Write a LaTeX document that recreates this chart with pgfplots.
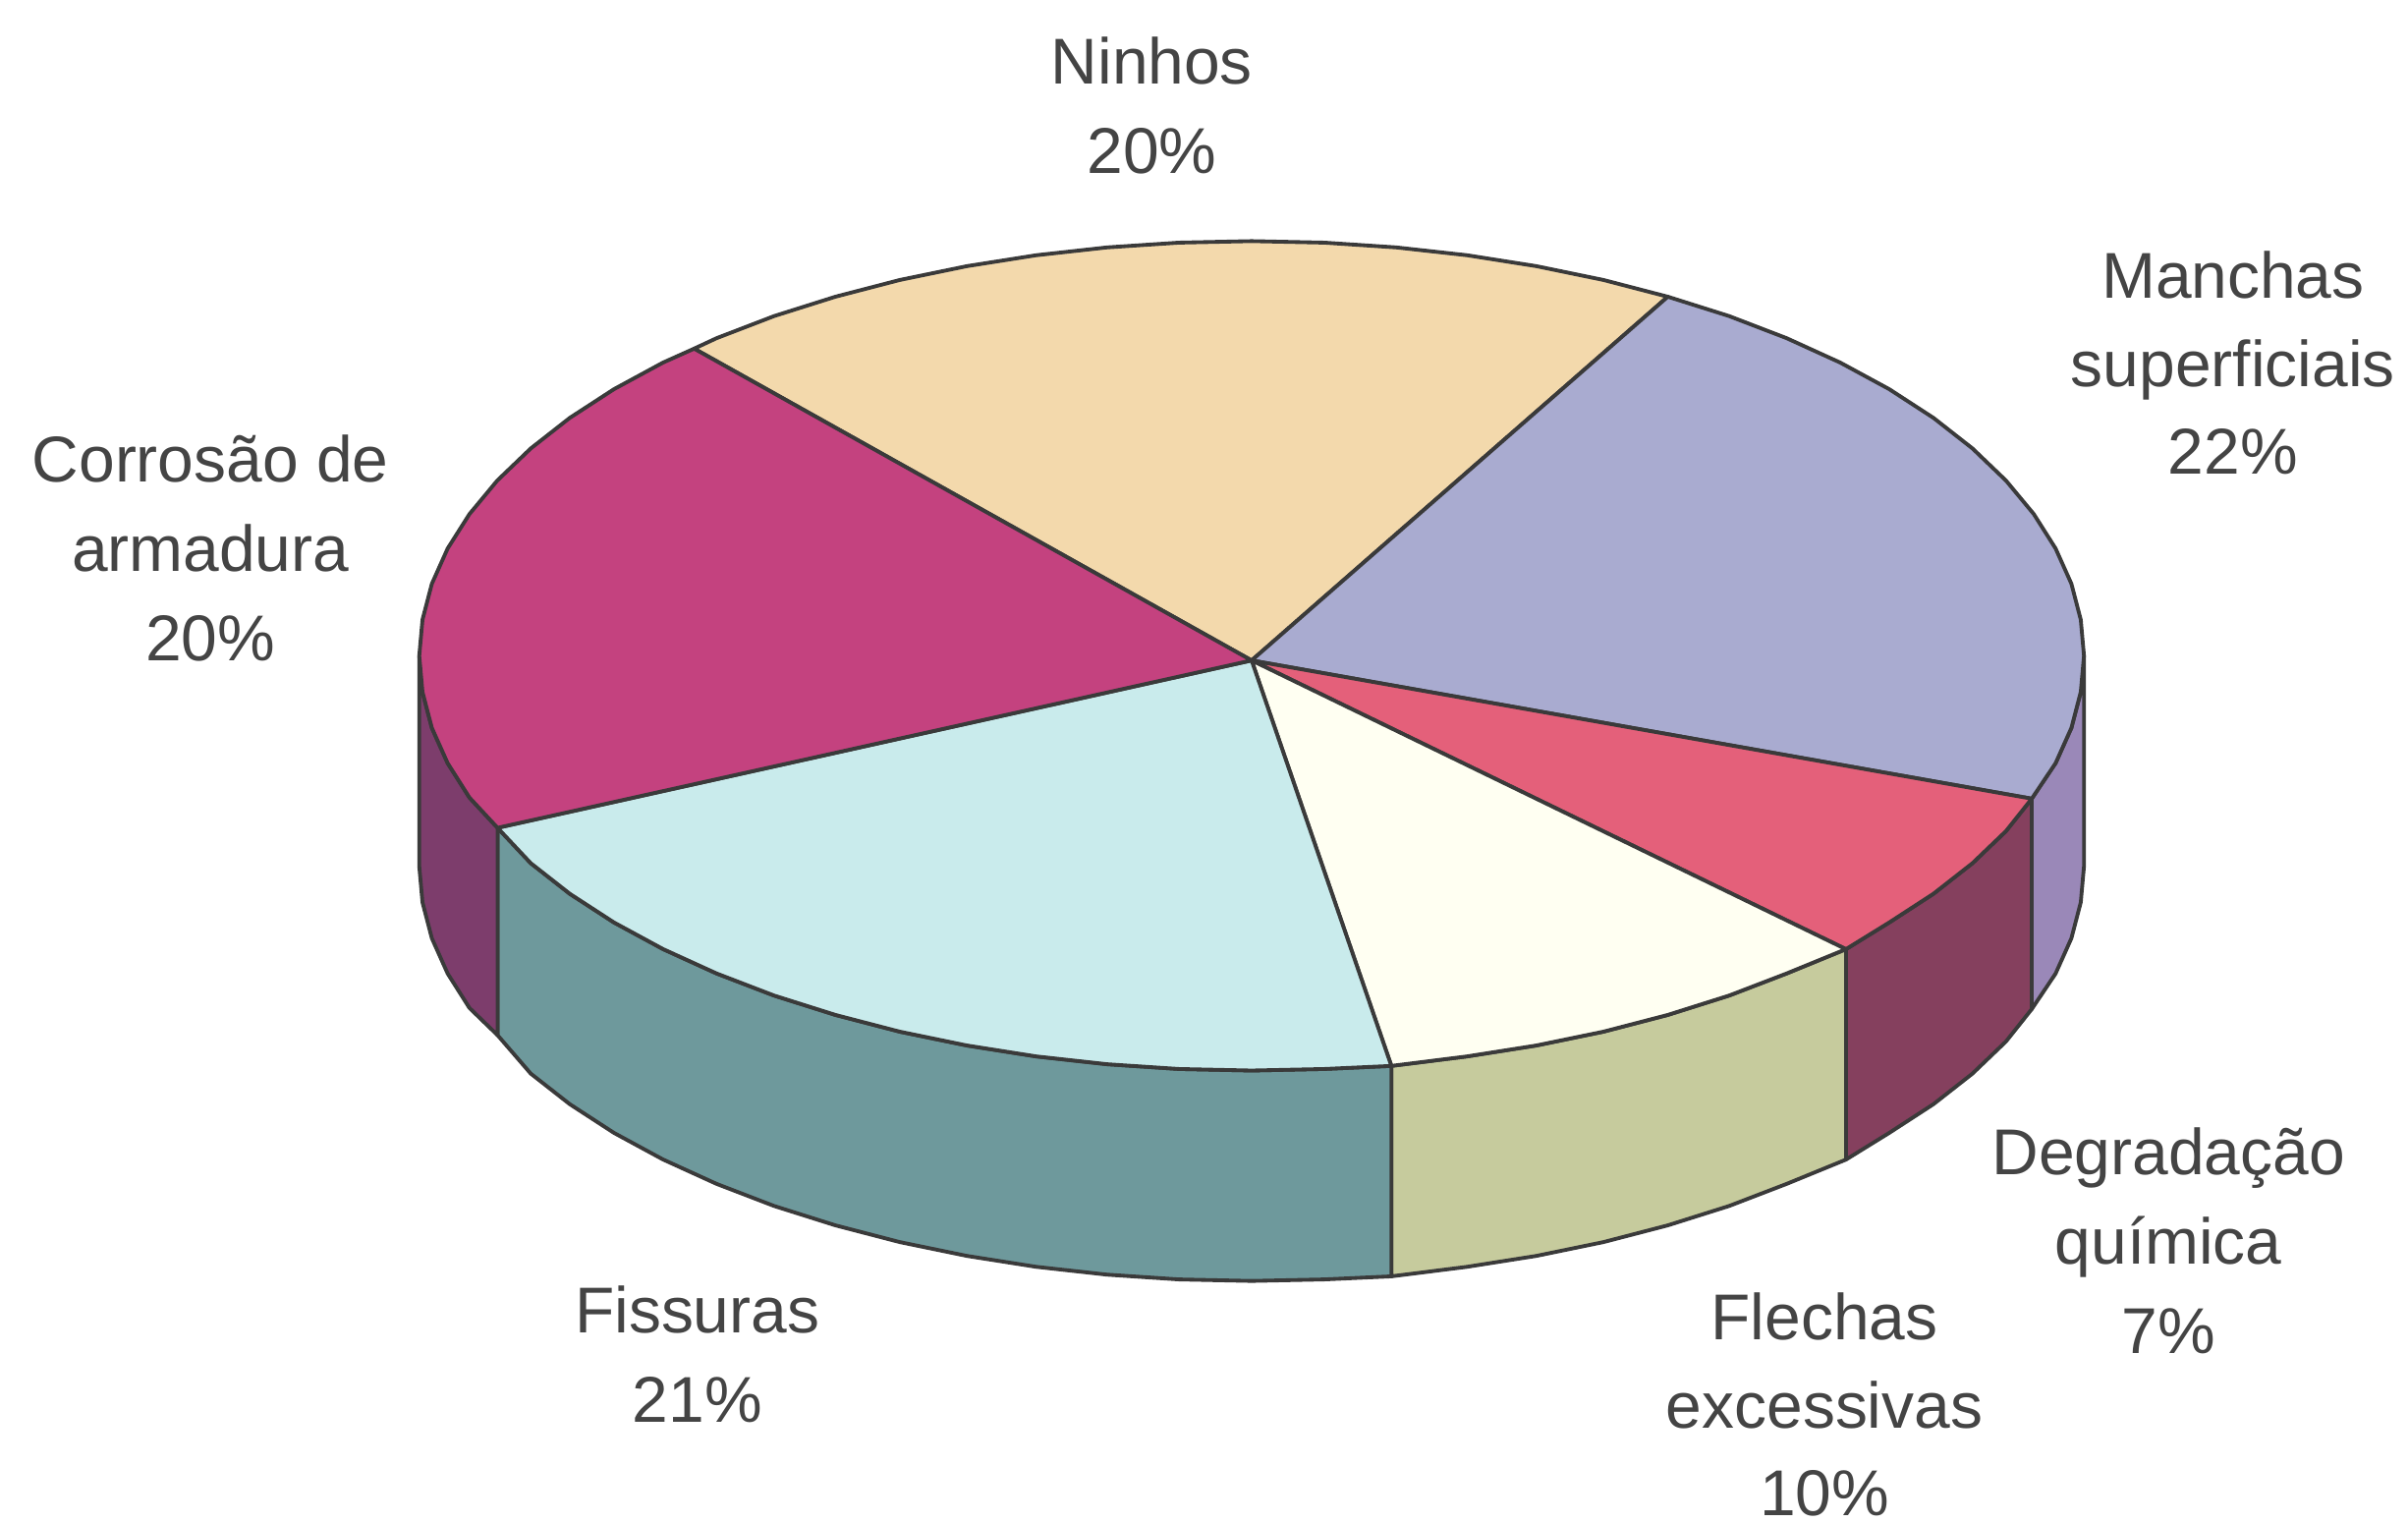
\documentclass[border=0pt]{standalone}
\usepackage{fontspec}
\setmainfont{Liberation Sans}
\usepackage{pgfplots}
\pgfplotsset{compat=1.18}

\definecolor{topNinhos}{HTML}{F3D9AC}
\definecolor{topManchas}{HTML}{A9ABD0}
\definecolor{topDegrad}{HTML}{E4607A}
\definecolor{topFlechas}{HTML}{FFFFF2}
\definecolor{topFissuras}{HTML}{C9EBEC}
\definecolor{topCorrosao}{HTML}{C4427F}
\definecolor{sideManchas}{HTML}{9A88B8}
\definecolor{sideDegrad}{HTML}{85405E}
\definecolor{sideFlechas}{HTML}{C6CB9D}
\definecolor{sideFissuras}{HTML}{6E999C}
\definecolor{sideCorrosao}{HTML}{7D3D6C}
\definecolor{edge}{HTML}{3A3A3A}
\definecolor{labeltext}{HTML}{444444}

\tikzset{
  slice/.style={draw=edge, line width=0.7pt, line join=round},
  lab/.style={anchor=base, text=labeltext, font=\fontsize{12}{14}\selectfont, inner sep=0pt},
}

\begin{document}
\begin{tikzpicture}
\useasboundingbox (0,0) rectangle (15.68,9.91);
\begin{axis}[
  scale only axis, width=15.68cm, height=9.91cm,
  xmin=0, xmax=1568, ymin=0, ymax=991, y dir=reverse,
  axis lines=none, clip=false,
]
% Rim of the disc
\addplot[slice, fill=sideManchas] coordinates {
 (1357,427) (1354.9,450.5) (1348.8,473.9) (1338.5,496.9) (1323,520)
 (1323,657) (1338.5,633.9) (1348.8,610.9) (1354.9,587.5) (1357,564) (1357,427)};
\addplot[slice, fill=sideDegrad] coordinates {
 (1323,520) (1306.2,541.1) (1284.4,562) (1259,581.9) (1230.2,600.6) (1202,618)
 (1202,755) (1230.2,737.6) (1259,718.9) (1284.4,699) (1306.2,678.1) (1323,657) (1323,520)};
\addplot[slice, fill=sideFlechas] coordinates {
 (1202,618) (1163.4,633.8) (1125.9,648.2) (1086,660.8) (1044.1,671.7) (1000.4,680.7) (955.3,687.8) (906,694)
 (906,831) (955.3,824.8) (1000.4,817.7) (1044.1,808.7) (1086,797.8) (1125.9,785.2) (1163.4,770.8) (1202,755) (1202,618)};
\addplot[slice, fill=sideFissuras] coordinates {
 (906,694) (862.3,696) (815,697) (767.7,696) (720.9,692.9) (674.7,687.8) (629.6,680.7) (585.9,671.7) (544,660.8)
 (504.1,648.2) (466.6,633.8) (431.7,617.9) (399.8,600.6) (371,581.9) (345.6,562) (324,539)
 (324,674) (345.6,699) (371,718.9) (399.8,737.6) (431.7,754.9) (466.6,770.8) (504.1,785.2) (544,797.8)
 (585.9,808.7) (629.6,817.7) (674.7,824.8) (720.9,829.9) (767.7,833) (815,834) (862.3,833) (906,831) (906,694)};
\addplot[slice, fill=sideCorrosao] coordinates {
 (273,427) (275.1,450.5) (281.2,473.9) (291.5,496.9) (305.7,519.3) (324,539)
 (324,674) (305.7,656.3) (291.5,633.9) (281.2,610.9) (275.1,587.5) (273,564) (273,427)};
% Top faces of the slices
\addplot[slice, fill=topNinhos] coordinates {
 (815,430) (452,227) (466.6,220.2) (504.1,205.8) (544,193.2) (585.9,182.3) (629.6,173.3) (674.7,166.2) (720.9,161.1)
 (767.7,158) (815,157) (862.3,158) (909.1,161.1) (955.3,166.2) (1000.4,173.3) (1044.1,182.3) (1086,193.2) (815,430)};
\addplot[slice, fill=topManchas] coordinates {
 (815,430) (1086,193.2) (1125.9,205.8) (1163.4,220.2) (1198.3,236.1) (1230.2,253.4) (1259,272.1) (1284.4,292)
 (1306.2,312.9) (1324.3,334.7) (1338.5,357.1) (1348.8,380.1) (1354.9,403.5) (1357,427) (1354.9,450.5) (1348.8,473.9)
 (1338.5,496.9) (1323,520) (815,430)};
\addplot[slice, fill=topDegrad] coordinates {
 (815,430) (1323,520) (1306.2,541.1) (1284.4,562) (1259,581.9) (1230.2,600.6) (1202,618) (815,430)};
\addplot[slice, fill=topFlechas] coordinates {
 (815,430) (1202,618) (1163.4,633.8) (1125.9,648.2) (1086,660.8) (1044.1,671.7) (1000.4,680.7) (955.3,687.8) (906,694) (815,430)};
\addplot[slice, fill=topFissuras] coordinates {
 (815,430) (906,694) (862.3,696) (815,697) (767.7,696) (720.9,692.9) (674.7,687.8) (629.6,680.7) (585.9,671.7) (544,660.8)
 (504.1,648.2) (466.6,633.8) (431.7,617.9) (399.8,600.6) (371,581.9) (345.6,562) (324,539) (815,430)};
\addplot[slice, fill=topCorrosao] coordinates {
 (815,430) (324,539) (305.7,519.3) (291.5,496.9) (281.2,473.9) (275.1,450.5) (273,427) (275.1,403.5) (281.2,380.1)
 (291.5,357.1) (305.7,334.7) (323.8,312.9) (345.6,292) (371,272.1) (399.8,253.4) (431.7,236.1) (452,227) (815,430)};
% Slice labels
\node[lab] at (axis cs:750,55) {Ninhos};
\node[lab] at (axis cs:750,113) {20\%};
\node[lab] at (axis cs:1454,194) {Manchas};
\node[lab] at (axis cs:1454,252) {superficiais};
\node[lab] at (axis cs:1454,309) {22\%};
\node[lab] at (axis cs:137,314) {Corrosão de};
\node[lab] at (axis cs:137,372) {armadura};
\node[lab] at (axis cs:137,430) {20\%};
\node[lab] at (axis cs:454,868) {Fissuras};
\node[lab] at (axis cs:454,926) {21\%};
\node[lab] at (axis cs:1188,872) {Flechas};
\node[lab] at (axis cs:1188,930) {excessivas};
\node[lab] at (axis cs:1188,987) {10\%};
\node[lab] at (axis cs:1412,765) {Degradação};
\node[lab] at (axis cs:1412,823) {química};
\node[lab] at (axis cs:1412,881) {7\%};
\end{axis}
\end{tikzpicture}
\end{document}
